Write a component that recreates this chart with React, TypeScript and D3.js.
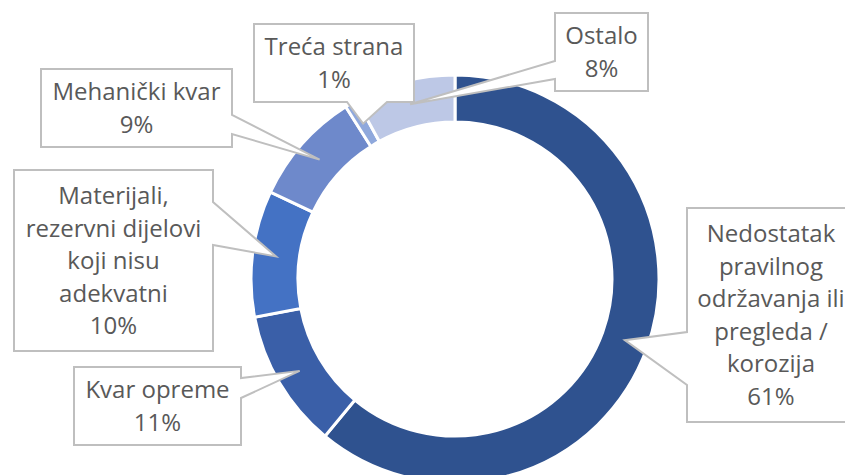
import React from "react";
import * as d3 from "d3";

const categories = [
  "Nedostatak pravilnog održavanja ili pregleda / korozija",
  "Kvar opreme",
  "Materijali, rezervni dijelovi koji nisu adekvatni",
  "Mehanički kvar",
  "Treća strana",
  "Ostalo",
];
const values = [61, 11, 10, 9, 1, 8];
const labelLines = [
  ["Nedostatak", "pravilnog", "održavanja ili", "pregleda /", "korozija"],
  ["Kvar opreme"],
  ["Materijali,", "rezervni dijelovi", "koji nisu", "adekvatni"],
  ["Mehanički kvar"],
  ["Treća strana"],
  ["Ostalo"],
];
const colors = ["#2F528F", "#3A5FA8", "#4472C4", "#6E89CB", "#8FA8DC", "#BDC8E6"];

// callout layout: box x,y,w,h ; side of wedge ; wedge base positions along side
const boxes = [
  { x: 687, y: 208, w: 168, h: 214, side: "left", a: 332, b: 385 },
  { x: 74, y: 367, w: 167, h: 78, side: "right", a: 378, b: 398 },
  { x: 14, y: 170, w: 199, h: 181, side: "right", a: 202, b: 245 },
  { x: 41, y: 69, w: 191, h: 78, side: "right", a: 115, b: 134 },
  { x: 254, y: 24, w: 160, h: 78, side: "bottom", a: 347, b: 387 },
  { x: 555, y: 13, w: 93, h: 78, side: "left", a: 61, b: 79 },
];

const W = 845;
const H = 475;
const cx = 455;
const cy = 279;
const outerR = 204;
const innerR = 157;
const lineH = 32.5;

function calloutPath(bx: any, tip: [number, number]) {
  const { x, y, w, h, side, a, b } = bx;
  const r = x + w;
  const btm = y + h;
  const [tx, ty] = tip;
  let p = "";
  if (side === "right") {
    p = `M${x},${y}L${r},${y}L${r},${a}L${tx},${ty}L${r},${b}L${r},${btm}L${x},${btm}Z`;
  } else if (side === "left") {
    p = `M${x},${y}L${r},${y}L${r},${btm}L${x},${btm}L${x},${b}L${tx},${ty}L${x},${a}Z`;
  } else if (side === "bottom") {
    p = `M${x},${y}L${r},${y}L${r},${btm}L${b},${btm}L${tx},${ty}L${a},${btm}L${x},${btm}Z`;
  } else {
    p = `M${x},${y}L${a},${y}L${tx},${ty}L${b},${y}L${r},${y}L${r},${btm}L${x},${btm}Z`;
  }
  return p;
}

export default function App() {
  const pie = d3.pie<number>().sort(null).value((d) => d)(values);
  const arc = d3.arc<d3.PieArcDatum<number>>().innerRadius(innerR).outerRadius(outerR);
  const total = d3.sum(values);
  const fmt = d3.format(".0%");

  return (
    <svg
      width={W}
      height={H}
      style={{ position: "absolute", left: 0, top: 0, background: "#fff" }}
      fontFamily="'Open Sans', sans-serif"
    >
      <g transform={`translate(${cx},${cy})`}>
        {pie.map((s, i) => (
          <path key={categories[i]} d={arc(s) || ""} fill={colors[i]} stroke="#fff" strokeWidth={3} />
        ))}
      </g>
      {pie.map((s, i) => {
        const c = arc.centroid(s);
        const tip: [number, number] = [cx + c[0], cy + c[1]];
        const bx = boxes[i];
        const lines = [...labelLines[i], fmt(values[i] / total)];
        const n = lines.length;
        const mx = bx.x + bx.w / 2;
        const my = bx.y + bx.h / 2;
        return (
          <g key={"lab" + i}>
            <path d={calloutPath(bx, tip)} fill="#fff" stroke="#BFBFBF" strokeWidth={2} strokeLinejoin="miter" />
            <text textAnchor="middle" fill="#595959" fontSize={24}>
              {lines.map((ln, j) => (
                <tspan key={j} x={mx} y={my + (j - (n - 1) / 2) * lineH + 8.5}>
                  {ln}
                </tspan>
              ))}
            </text>
          </g>
        );
      })}
    </svg>
  );
}
